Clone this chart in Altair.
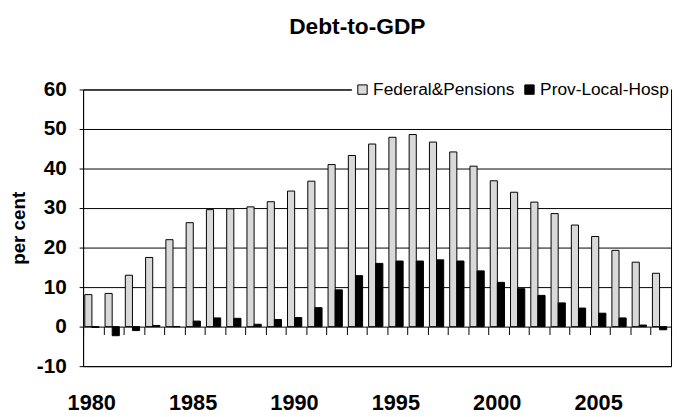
import altair as alt
import pandas as pd

years = list(range(1980, 2009))
federal = [8.1, 8.4, 13.0, 17.5, 22.0, 26.3, 29.6, 29.8, 30.3, 31.6,
           34.3, 36.8, 41.0, 43.3, 46.2, 47.9, 48.6, 46.7, 44.2, 40.6,
           36.9, 34.0, 31.5, 28.6, 25.7, 22.8, 19.3, 16.3, 13.5]
prov = [-0.2, -2.3, -1.0, 0.3, 0.0, 1.4, 2.2, 2.1, 0.6, 1.8,
        2.3, 4.8, 9.3, 12.9, 16.0, 16.6, 16.6, 16.9, 16.6, 14.1,
        11.2, 9.6, 7.9, 6.0, 4.7, 3.4, 2.2, 0.4, -0.8]
series = ["Federal&Pensions", "Prov-Local-Hosp"]
colors = ["#d9d9d9", "#000000"]
y_ticks = [-10, 0, 10, 20, 30, 40, 50, 60]

rows = []
for i, yr in enumerate(years):
    rows.append({"year": yr, "series": series[0], "value": federal[i]})
    rows.append({"year": yr, "series": series[1], "value": prov[i]})
df = pd.DataFrame(rows)

FONT = "Liberation Sans"

chart = alt.Chart(df).mark_bar(stroke="black", strokeWidth=1).encode(
    x=alt.X("year:O",
            scale=alt.Scale(paddingInner=0, paddingOuter=0),
            axis=alt.Axis(title=None, offset=-40, domain=False, ticks=True,
                          tickBand="extent", tickSize=8, tickColor="black",
                          labelExpr="toNumber(datum.value) % 5 == 0 ? datum.value : ''",
                          labelAngle=0, labelFontSize=22, labelFontWeight="bold",
                          labelFont=FONT, labelColor="black", labelPadding=59,
                          labelOffset=-2, labelOverlap=False, grid=False)),
    xOffset=alt.XOffset("series:N", sort=series,
                        scale=alt.Scale(paddingInner=0, paddingOuter=0.42, align=0.28)),
    y=alt.Y("value:Q",
            scale=alt.Scale(domain=[-10, 60], nice=False, zero=False),
            axis=alt.Axis(values=y_ticks, grid=True, gridColor="black", gridOpacity=1,
                          gridWidth=1, domainColor="black", tickColor="black",
                          tickSize=4, labelFontSize=21, labelFontWeight="bold",
                          labelExpr="'' + datum.value",
                          labelFont=FONT, labelColor="black", labelPadding=13,
                          title="per cent", titleFontSize=19, titleFontWeight="bold",
                          titleFont=FONT, titleColor="black", titleX=-65, titleY=140,
                          titleAngle=-90, titleAlign="center", titleBaseline="middle")),
    fill=alt.Fill("series:N", scale=alt.Scale(domain=series, range=colors),
                  legend=alt.Legend(title=None, orient="none", legendX=272, legendY=-11,
                                    direction="horizontal", fillColor="white", padding=2,
                                    labelFontSize=17.5, labelFont=FONT, labelColor="black",
                                    symbolType="square", symbolSize=90,
                                    symbolStrokeColor="black", symbolStrokeWidth=1,
                                    columnPadding=6, labelOffset=2)),
).properties(
    width=595, height=280,
    autosize=alt.AutoSizeParams(type="none"),
    padding={"left": 76, "top": 80, "right": 2, "bottom": 49},
    title=alt.Title("Debt-to-GDP", fontSize=23, fontWeight="bold", font=FONT,
                    color="black", anchor="middle", dx=-20, offset=40),
).configure_view(stroke="black", strokeWidth=1)

chart.save("out.html", embed_options={"renderer": "svg", "actions": False})
